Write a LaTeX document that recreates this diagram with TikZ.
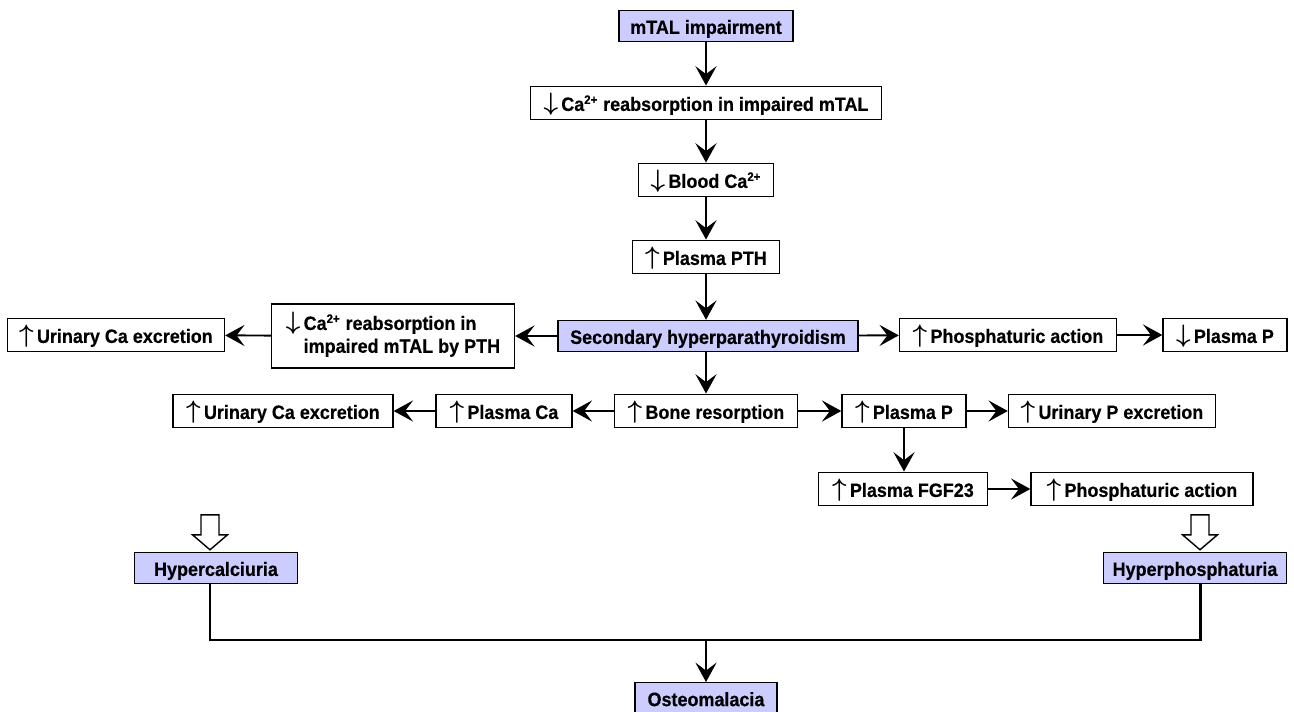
\documentclass[tikz,border=0pt]{standalone}
\usepackage{fontspec}
\setmainfont{Liberation Sans}
\newfontfamily\boxfont{Liberation Sans Bold}[FakeStretch=0.93, FakeBold=0.4]
\usepackage{tikz}
\usetikzlibrary{arrows.meta, positioning, calc}
\usepackage{amsmath,bm}

\definecolor{keyblue}{HTML}{CCCCFF}
\newcommand{\incr}{{\fontsize{15}{15}\selectfont$\bm{\uparrow}$}\,}
\newcommand{\decr}{{\fontsize{15}{15}\selectfont$\bm{\downarrow}$}\,}
\newcommand{\ionc}{\textsuperscript{\fontsize{7}{7}\selectfont 2+}}

\begin{document}
\begin{tikzpicture}[x=0.02cm, y=-0.02cm,
	base/.style={draw, line width=0.8pt, fill=white, inner sep=2pt, font=\boxfont\fontsize{11}{13}\selectfont},
	box/.style={base, minimum height=0.67cm, text height=10.5pt, text depth=1.5pt},
	keybox/.style={box, fill=keyblue, minimum height=0.62cm},
	link/.style={-{Stealth[length=11pt, width=12pt, inset=4.5pt]}, line width=1.1pt},
	hollow/.style={draw, line width=0.8pt, fill=white, line join=miter},
	joinline/.style={line width=1.7pt}]
	\useasboundingbox (0,0) rectangle (1294,712);

	\node[keybox, minimum width=3.48cm] (imp) at (706,26) {mTAL impairment};
	\node[box, minimum width=7.02cm] (reab) at (706,103) {\decr Ca\ionc\ reabsorption in impaired mTAL};
	\node[box, minimum width=2.70cm] (blood) at (706,180) {\decr Blood Ca\ionc};
	\node[box, minimum width=2.94cm] (pth) at (706,257) {\incr Plasma PTH};
	\node[keybox, minimum width=6.00cm] (shpt) at (708,336) {Secondary hyperparathyroidism};
	\node[base, minimum width=4.86cm, minimum height=1.28cm] (reabpth) at (393,336)
		{\begin{tabular}{@{}l@{}l@{}}\decr & Ca\ionc\ reabsorption in\\ & impaired mTAL by PTH\end{tabular}};
	\node[box, minimum width=4.34cm] (urica1) at (116,335) {\incr Urinary Ca excretion};
	\node[box, minimum width=4.34cm] (phos1) at (1008,335) {\incr Phosphaturic action};
	\node[box, minimum width=2.48cm] (plp1) at (1225,335) {\decr Plasma P};

	\node[box, minimum width=3.66cm] (bone) at (706,411) {\incr Bone resorption};
	\node[box, minimum width=2.72cm] (plca) at (504,411) {\incr Plasma Ca};
	\node[box, minimum width=4.40cm] (urica2) at (283,411) {\incr Urinary Ca excretion};
	\node[box, minimum width=2.48cm] (plp2) at (904,411) {\incr Plasma P};
	\node[box, minimum width=4.14cm] (urip) at (1112,411) {\incr Urinary P excretion};
	\node[box, minimum width=3.38cm] (fgf) at (903,489) {\incr Plasma FGF23};
	\node[box, minimum width=4.44cm] (phos2) at (1142,489) {\incr Phosphaturic action};

	\node[keybox, minimum width=3.26cm] (hcal) at (216,568) {Hypercalciuria};
	\node[keybox, minimum width=3.66cm] (hphos) at (1195,568) {Hyperphosphaturia};
	\node[keybox, minimum width=2.84cm, anchor=north] (osteo) at (706,682) {Osteomalacia};
	\coordinate (split) at (osteo.north |- 0,640);

	\draw[link] (imp) -- (reab);
	\draw[link] (reab) -- (blood);
	\draw[link] (blood) -- (pth);
	\draw[link] (pth) -- (pth |- shpt.north);
	\draw[link] (shpt) -- (reabpth);
	\draw[link] (reabpth) -- (urica1);
	\draw[link] (shpt) -- (phos1);
	\draw[link] (phos1) -- (plp1);
	\draw[link] (shpt.south -| bone) -- (bone);
	\draw[link] (bone) -- (plca);
	\draw[link] (plca) -- (urica2);
	\draw[link] (bone) -- (plp2);
	\draw[link] (plp2) -- (urip);
	\draw[link] (plp2.south) -- (plp2.south |- fgf.north);
	\draw[link] (fgf) -- (phos2);

	\foreach \tgt/\dx in {hcal/-6, hphos/5} {
		\draw[hollow] ($(\tgt.north)+(\dx,-2)$) -- ++(-17.5,-15) -- ++(8.5,0) -- ++(0,-20)
			-- ++(18,0) -- ++(0,20) -- ++(8.5,0) -- cycle;
	}
	\draw[joinline] (hcal.south -| 210,0) |- (split) -| (hphos.south -| 1200,0);
	\draw[link] (split) -- (osteo);
\end{tikzpicture}
\end{document}
